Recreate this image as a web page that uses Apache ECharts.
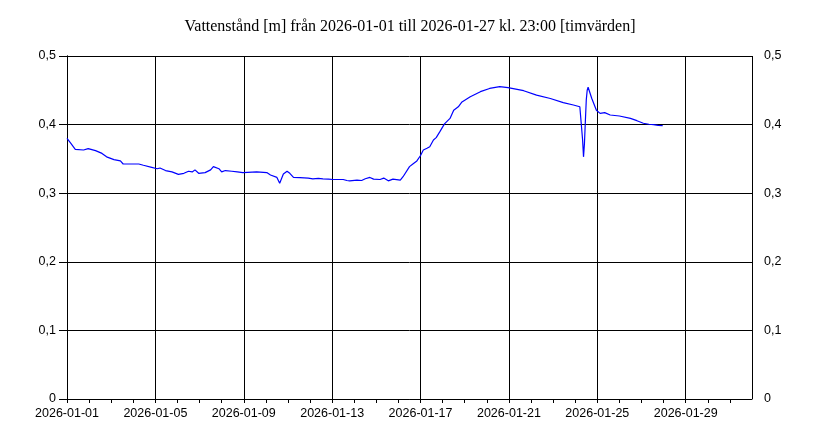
<!DOCTYPE html>
<html>
<head>
<meta charset="utf-8">
<script src="https://cdn.jsdelivr.net/npm/echarts@6/dist/echarts.min.js"></script>
<style>html,body{margin:0;padding:0;background:#fff}#c{width:820px;height:444px}</style>
</head>
<body>
<div id="c"></div>
<script>
const titleText = 'Vattenstånd [m] från 2026-01-01 till 2026-01-27 kl. 23:00 [timvärden]';
const startDate = '2026-01-01 00:00';
const endDate = '2026-02-01 00:00';
const yTicks = [0, 0.1, 0.2, 0.3, 0.4, 0.5];

const times = [
 '2026-01-01 00:00','2026-01-01 01:00','2026-01-01 04:00','2026-01-01 09:00','2026-01-01 18:00','2026-01-01 23:00',
 '2026-01-02 07:00','2026-01-02 14:00','2026-01-02 19:00','2026-01-03 03:00','2026-01-03 10:00','2026-01-03 12:00',
 '2026-01-03 13:00','2026-01-03 19:00','2026-01-04 06:00','2026-01-04 11:00','2026-01-04 20:00','2026-01-05 02:00',
 '2026-01-05 05:00','2026-01-05 11:00','2026-01-05 18:00','2026-01-06 01:00','2026-01-06 07:00','2026-01-06 12:00',
 '2026-01-06 16:00','2026-01-06 19:00','2026-01-06 23:00','2026-01-07 06:00','2026-01-07 12:00','2026-01-07 15:00',
 '2026-01-07 21:00','2026-01-08 00:00','2026-01-08 04:00','2026-01-08 11:00','2026-01-08 17:00','2026-01-08 23:00',
 '2026-01-09 14:00','2026-01-10 01:00','2026-01-10 05:00','2026-01-10 12:00','2026-01-10 15:00','2026-01-10 19:00',
 '2026-01-10 23:00','2026-01-11 02:00','2026-01-11 06:00','2026-01-11 13:00','2026-01-11 22:00','2026-01-12 03:00',
 '2026-01-12 09:00','2026-01-12 14:00','2026-01-12 20:00','2026-01-13 01:00','2026-01-13 12:00','2026-01-13 16:00',
 '2026-01-13 19:00','2026-01-14 03:00','2026-01-14 08:00','2026-01-14 12:00','2026-01-14 17:00','2026-01-14 21:00',
 '2026-01-15 04:00','2026-01-15 08:00','2026-01-15 13:00','2026-01-15 18:00','2026-01-16 02:00','2026-01-16 05:00',
 '2026-01-16 12:00','2026-01-16 16:00','2026-01-16 20:00','2026-01-17 00:00','2026-01-17 03:00','2026-01-17 07:00',
 '2026-01-17 10:00','2026-01-17 14:00','2026-01-17 17:00','2026-01-17 21:00','2026-01-18 02:00','2026-01-18 08:00',
 '2026-01-18 12:00','2026-01-18 14:00','2026-01-18 17:00','2026-01-18 21:00','2026-01-19 06:00','2026-01-19 17:00',
 '2026-01-20 03:00','2026-01-20 14:00','2026-01-20 23:00','2026-01-21 16:00','2026-01-22 06:00','2026-01-22 21:00',
 '2026-01-23 11:00','2026-01-23 22:00','2026-01-24 05:00','2026-01-24 07:00','2026-01-24 08:00','2026-01-24 09:00',
 '2026-01-24 10:00','2026-01-24 11:00','2026-01-24 12:00','2026-01-24 13:00','2026-01-24 14:00','2026-01-24 18:00',
 '2026-01-24 23:00','2026-01-25 03:00','2026-01-25 05:00','2026-01-25 08:00','2026-01-25 14:00','2026-01-26 00:00',
 '2026-01-26 12:00','2026-01-26 19:00','2026-01-27 02:00','2026-01-27 08:00','2026-01-27 13:00','2026-01-27 18:00',
 '2026-01-27 23:00'
];
const levels = [
 0.380,0.380,0.373,0.364,0.363,0.365,
 0.362,0.358,0.353,0.349,0.347,0.346,
 0.3426,0.3426,0.3426,0.3407,0.3377,0.3357,
 0.3367,0.333,0.331,0.3275,0.329,0.332,
 0.331,0.334,0.329,0.330,0.334,0.3387,
 0.3357,0.331,0.333,0.332,0.331,0.330,
 0.331,0.330,0.3265,0.323,0.3144,0.328,
 0.332,0.329,0.323,0.3226,0.322,0.321,
 0.3215,0.321,0.3205,0.320,0.320,0.3185,
 0.318,0.319,0.3185,0.321,0.323,0.3205,
 0.320,0.322,0.318,0.3205,0.319,0.324,
 0.3387,0.343,0.347,0.355,0.363,0.3655,
 0.3677,0.3776,0.381,0.3897,0.401,0.409,
 0.421,0.419,0.426,0.433,0.4407,0.448,
 0.4527,0.4553,0.4538,0.4494,0.443,0.438,
 0.432,0.4286,0.426,0.4237,0.378,0.353,
 0.372,0.405,0.436,0.450,0.4544,0.438,
 0.421,0.4164,0.4180,0.4174,0.414,0.4125,
 0.409,0.4057,0.402,0.4005,0.400,0.3990,
 0.3985
];

function toMs(s){const [d,t]=s.split(' ');const [Y,M,D]=d.split('-').map(Number);const [h,m]=t.split(':').map(Number);return Date.UTC(Y,M-1,D,h,m);}
const HOUR = 3600000;
const t0 = toMs(startDate);
const tMax = (toMs(endDate) - t0) / HOUR;
const pts = times.map((t,i)=>[(toMs(t)-t0)/HOUR, levels[i]]);
function fmtDate(h){const d=new Date(t0+h*HOUR);const p=n=>String(n).padStart(2,'0');return d.getUTCFullYear()+'-'+p(d.getUTCMonth()+1)+'-'+p(d.getUTCDate());}
const fmtY = v => String(Math.round(v*10)/10).replace('.', ',');

const labelFont = {fontFamily:'Liberation Sans, Arial, sans-serif', fontSize:12.5, color:'#000'};
const chart = echarts.init(document.getElementById('c'), null, {renderer:'canvas'});
chart.setOption({
  animation:false,
  backgroundColor:'#fff',
  title:{text:titleText,left:'center',top:14,textStyle:{fontFamily:'Liberation Serif, Times New Roman, serif',fontSize:16,fontWeight:'normal',color:'#000'}},
  grid:{left:67,right:68,top:56,bottom:45,containLabel:false},
  xAxis:[{
    type:'value',min:0,max:tMax,interval:24,
    axisLine:{show:true,lineStyle:{color:'#000',width:1}},
    axisTick:{show:true,length:4,lineStyle:{color:'#000'}},
    splitLine:{show:false},
    axisLabel:Object.assign({margin:8,showMaxLabel:false,formatter:v=>(v%96===0?fmtDate(v):'')},labelFont)
  },{
    type:'value',min:0,max:tMax,interval:96,position:'top',
    axisLine:{show:false},axisTick:{show:false},axisLabel:{show:false},
    splitLine:{show:true,lineStyle:{color:'#000',width:1}}
  }],
  yAxis:[{
    type:'value',min:yTicks[0],max:yTicks[yTicks.length-1],interval:0.1,position:'left',
    axisLine:{show:true,lineStyle:{color:'#000'}},
    axisTick:{show:true,length:8,lineStyle:{color:'#000'}},
    splitLine:{show:true,lineStyle:{color:'#000',width:1}},
    axisLabel:Object.assign({margin:11,formatter:fmtY},labelFont)
  },{
    type:'value',min:yTicks[0],max:yTicks[yTicks.length-1],interval:0.1,position:'right',
    axisLine:{show:true,lineStyle:{color:'#000'}},
    axisTick:{show:true,length:8,lineStyle:{color:'#000'}},
    splitLine:{show:false},
    axisLabel:Object.assign({margin:12,formatter:fmtY},labelFont)
  }],
  series:[{
    type:'line',data:pts,xAxisIndex:0,yAxisIndex:0,showSymbol:false,symbol:'none',
    lineStyle:{color:'#0000ff',width:1.2},z:5
  }]
});
</script>
</body>
</html>
